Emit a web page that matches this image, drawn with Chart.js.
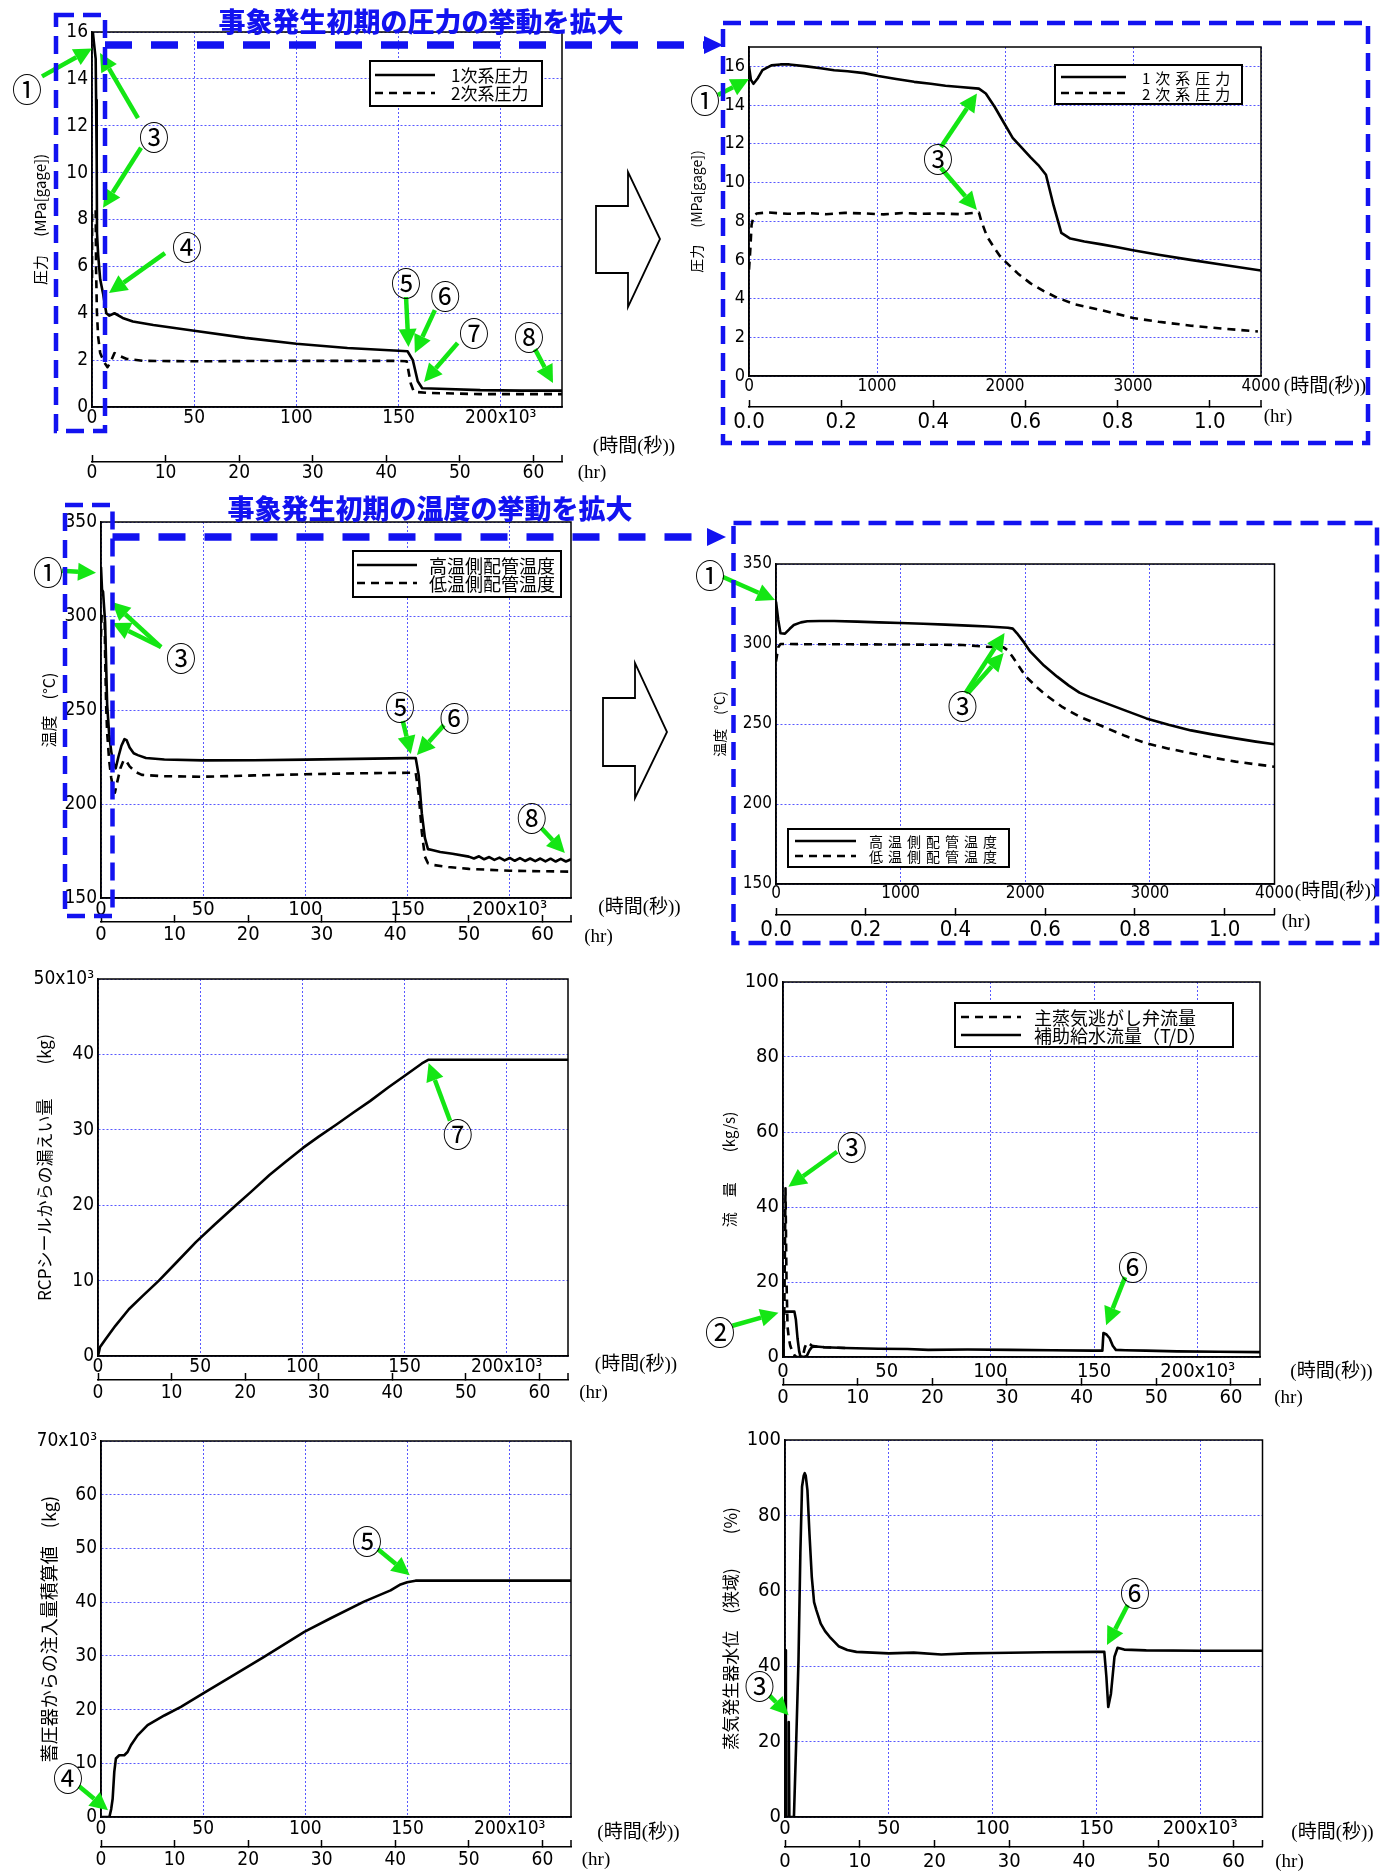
<!DOCTYPE html>
<html lang="ja">
<head>
<meta charset="utf-8">
<title>事象発生時のプラント挙動</title>
<script src="https://cdn.jsdelivr.net/npm/chart.js@4.4.1/dist/chart.umd.min.js"></script>
<style>
  html, body { margin: 0; padding: 0; background: #fff; }
  body { position: relative; width: 1389px; height: 1872px; overflow: hidden; }
  canvas { position: absolute; }
  #overlay { left: 0; top: 0; pointer-events: none; z-index: 10; }
</style>
</head>
<body>
<canvas id="overlay" width="1389" height="1872"></canvas>
<script>
// ---- values (time in seconds) ----

// pressure, whole run
var primPressTime = [0, 300, 1000, 1800, 2000, 2300, 2450, 3000, 4000, 5500, 7000, 8500, 11000, 15000, 20000, 30000, 50000, 75000, 100000, 125000, 150000, 154400, 157000, 159400, 161600, 170000, 190000, 210000, 230000];
var primPress = [16.0, 16.1, 15.5, 14.85, 13.1, 10.5, 7.4, 6.5, 5.45, 4.8, 4.0, 3.9, 4.0, 3.8, 3.65, 3.5, 3.25, 2.95, 2.7, 2.52, 2.4, 2.38, 2.0, 1.1, 0.8, 0.78, 0.72, 0.7, 0.7];
var secPressTime = [0, 50, 1800, 2000, 2400, 3000, 4000, 6000, 7600, 9000, 11000, 13000, 17000, 25000, 50000, 100000, 150000, 154000, 156000, 157500, 165000, 190000, 230000];
var secPress = [5.5, 8.3, 8.4, 5.9, 4.05, 3.0, 2.3, 1.9, 1.7, 1.9, 2.3, 2.2, 2.05, 1.97, 1.95, 1.97, 1.97, 1.95, 1.0, 0.65, 0.6, 0.55, 0.55];

// pressure, first 4000 s
var primPressEarlyTime = [0, 15, 35, 70, 105, 175, 245, 315, 450, 560, 665, 770, 900, 1010, 1150, 1290, 1420, 1535, 1650, 1796, 1850, 1920, 1990, 2060, 2130, 2200, 2260, 2320, 2380, 2440, 2510, 2620, 2755, 2880, 3000, 3200, 3450, 3700, 4000];
var primPressEarly = [16.0, 15.3, 15.1, 15.4, 15.8, 16.05, 16.1, 16.1, 16.0, 15.9, 15.8, 15.75, 15.65, 15.5, 15.35, 15.2, 15.1, 15.0, 14.93, 14.85, 14.6, 13.9, 13.1, 12.3, 11.8, 11.3, 10.9, 10.4, 8.8, 7.4, 7.1, 6.95, 6.8, 6.65, 6.5, 6.27, 6.0, 5.75, 5.45];
var secPressEarlyTime = [0, 10, 20, 30, 45, 60, 150, 300, 450, 600, 750, 900, 1050, 1200, 1350, 1500, 1650, 1796, 1815, 1860, 1918, 1960, 2005, 2100, 2197, 2300, 2406, 2550, 2755, 3000, 3200, 3453, 3700, 3976];
var secPressEarly = [5.5, 6.5, 7.8, 8.1, 8.3, 8.4, 8.45, 8.38, 8.42, 8.36, 8.43, 8.4, 8.35, 8.42, 8.38, 8.4, 8.36, 8.45, 8.0, 7.2, 6.6, 6.2, 5.9, 5.3, 4.8, 4.4, 4.05, 3.7, 3.4, 3.0, 2.8, 2.6, 2.45, 2.3];

// loop temperatures, whole run
var hotTempTime = [0, 500, 1000, 2000, 3000, 4000, 5000, 6000, 7200, 8500, 10000, 11500, 12500, 14000, 16000, 18000, 22000, 31000, 50000, 75000, 100000, 125000, 150000, 154000, 155500, 157000, 158500, 160000, 162000, 166000, 172000, 180000, 182500, 185000, 187500, 190000, 192500, 195000, 197500, 200000, 202500, 205000, 207500, 210000, 212500, 215000, 217500, 220000, 222500, 225000, 227500, 230000];
var hotTemp = [326, 314, 313, 297, 253, 237, 228, 222, 219, 225, 231, 234.5, 234, 230, 227, 226, 224.5, 223.7, 223.2, 223.3, 223.6, 224.0, 224.4, 224.5, 215, 195, 182, 176, 175.5, 174.5, 173.5, 172, 171, 172.2, 170.6, 171.8, 170.3, 171.5, 170.0, 171.3, 169.8, 171.2, 169.7, 171.0, 169.6, 171.0, 169.5, 170.9, 169.4, 170.8, 169.4, 170.6];
var coldTempTime = [0, 300, 1000, 1800, 2000, 2500, 3000, 4000, 5000, 6000, 6800, 8000, 9500, 11000, 12000, 14000, 17000, 20000, 30000, 50000, 75000, 100000, 125000, 150000, 154000, 155500, 157000, 158500, 160000, 163000, 170000, 180000, 200000, 230000];
var coldTemp = [289, 300, 299.6, 298, 280, 253, 238, 223, 214, 208, 206, 212, 219, 223, 223.5, 220, 217, 215.5, 214.8, 214.5, 215.2, 215.8, 216.3, 216.6, 216.6, 205, 185, 172, 168.5, 167.5, 166.5, 165.5, 164.5, 164];

// loop temperatures, first 4000 s
var hotTempEarlyTime = [0, 18, 36, 72, 110, 143, 200, 251, 350, 466, 650, 824, 1000, 1182, 1360, 1540, 1700, 1862, 1900, 1934, 1990, 2041, 2150, 2256, 2350, 2435, 2520, 2614, 2800, 2972, 3150, 3330, 3500, 3688, 3850, 4000];
var hotTempEarly = [326.5, 315, 306.7, 306.5, 309.5, 311.9, 313.5, 314.2, 314.4, 314.4, 314, 313.5, 313.1, 312.7, 312.1, 311.5, 310.9, 310.2, 309.6, 306.7, 301, 295.2, 286.5, 279.6, 274, 269.6, 266.8, 264, 258.5, 253.5, 249.5, 246, 243.5, 241, 239, 237.3];
var coldTempEarlyTime = [0, 10, 18, 36, 100, 300, 600, 900, 1200, 1500, 1683, 1826, 1860, 1898, 1950, 2005, 2100, 2184, 2300, 2435, 2614, 2800, 2972, 3150, 3330, 3500, 3688, 3850, 4000];
var coldTempEarly = [289, 294, 298, 300, 300, 299.8, 299.8, 299.7, 299.6, 299.4, 298.3, 297.9, 296, 292, 286, 279.6, 272.5, 267, 260.5, 254.6, 248.75, 242.6, 237.9, 234.6, 231.7, 229, 226.5, 224.8, 223.3];

// RCP seal leakage (kg)
var sealLeakTime = [0, 1000, 3600, 8500, 15100, 22000, 29800, 38000, 47900, 57000, 67500, 75000, 83900, 92000, 100300, 108000, 116700, 125000, 133100, 142000, 150800, 158500, 161800, 180000, 200000, 230000];
var sealLeak = [0, 1200, 2200, 4000, 6200, 8000, 10000, 12300, 15100, 17400, 20000, 21800, 24000, 25800, 27600, 29100, 30700, 32300, 33800, 35600, 37300, 38800, 39300, 39300, 39300, 39300];

// aux feedwater and relief valve flow (kg/s)
var afwTime = [0, 300, 600, 5500, 6200, 7000, 7800, 8400, 10000, 11500, 12800, 14000, 16000, 20000, 30000, 46000, 60000, 70000, 89000, 110000, 130000, 149500, 154000, 154500, 156000, 157500, 159000, 160500, 165000, 175000, 190000, 210000, 230000];
var afwFlow = [0, 11.8, 12.1, 12.1, 10, 5, 1.5, 0.2, 0, 0.3, 1.8, 2.7, 2.8, 2.6, 2.4, 2.2, 2.15, 1.9, 2.0, 1.9, 1.8, 1.7, 1.7, 6.4, 6.0, 5.0, 3.0, 1.9, 1.8, 1.7, 1.5, 1.4, 1.3];
var msrvTime = [0, 600, 1200, 1700, 2200, 2800, 3500, 4500, 5500, 6500, 9500, 10500, 11500, 12500, 14000, 16000, 20000, 30000];
var msrvFlow = [0, 10, 45, 20, 8, 5, 3, 1.5, 0.5, 0, 0, 2.5, 3.8, 3.6, 3.0, 2.8, 2.6, 2.4];

// accumulator injection, integrated (kg)
var accumTime = [0, 4100, 5000, 5700, 6500, 7300, 8900, 11400, 13000, 14700, 17900, 22800, 31000, 39100, 50000, 63500, 79800, 99700, 112400, 128700, 141700, 146600, 149800, 153900, 190000, 230000];
var accumMass = [0, 0, 1500, 3400, 8400, 10900, 11500, 11500, 12100, 13400, 15200, 17100, 18900, 20500, 23000, 26100, 29800, 34500, 37000, 40100, 42200, 43300, 43700, 44000, 44000, 44000];

// SG narrow range level (%)
var sgLevelTime = [0, 430, 1100, 1500, 1700, 1900, 2100, 2400, 4300, 5400, 6500, 7400, 8200, 9000, 9500, 10000, 10800, 11800, 12900, 14000, 15100, 17200, 19300, 21500, 25800, 30000, 34400, 50000, 62000, 75300, 88000, 100000, 125000, 150000, 153800, 154800, 155700, 157000, 158700, 160200, 163400, 174000, 200000, 230000];
var sgLevel = [44.2, 0, 0, 0, 25.2, 25.2, 0, 0, 0, 20, 41.6, 70, 87.6, 90.5, 91.2, 90.5, 86.7, 75, 63.7, 57, 54.9, 51.3, 49.3, 47.8, 45.3, 44.3, 43.8, 43.4, 43.6, 43.1, 43.4, 43.5, 43.7, 43.8, 43.8, 37.2, 29.2, 32.7, 42.5, 44.9, 44.4, 44.2, 44.1, 44.1];

// tick labels
var secTickLabels = ['0', '50', '100', '150', '200x10³'];
var secTickLabelsEarly = ['0', '1000', '2000', '3000', '4000'];
var hrTickLabels = ['0', '10', '20', '30', '40', '50', '60'];
var hrTickLabelsEarly = ['0.0', '0.2', '0.4', '0.6', '0.8', '1.0'];
var pressTickLabels = ['0', '2', '4', '6', '8', '10', '12', '14', '16'];
var tempTickLabels = ['150', '200', '250', '300', '350'];
var leakTickLabels = ['0', '10', '20', '30', '40', '50x10³'];
var flowTickLabels = ['0', '20', '40', '60', '80', '100'];
var accumTickLabels = ['0', '10', '20', '30', '40', '50', '60', '70x10³'];
var levelTickLabels = ['0', '20', '40', '60', '80', '100'];

// ---- styling ----
var GRID = 'rgba(70,70,255,0.9)';
var GREEN = '#14e614';
var BLUE = '#1212f0';
var TICK = 7;
var NUM = "'Liberation Sans Narrow', 'DejaVu Sans Condensed', 'Liberation Sans', sans-serif";
var JP = "'Noto Sans CJK JP', 'Noto Sans', sans-serif";
var UNIT = "'Liberation Serif', 'Noto Sans CJK JP', serif";

function pts(t, v) {
  return t.map(function (x, i) { return {x: x, y: v[i]}; });
}

function series(label, t, v, dashed) {
  return {
    label: label, data: pts(t, v),
    borderColor: '#000', borderWidth: 2.6, borderDash: dashed ? [8, 6] : [],
    borderJoinStyle: 'round', pointRadius: 0, fill: false, tension: 0
  };
}

// ticks at start + i*step, one per label
function fixTicks(labels, start, step) {
  return function (s) {
    s.ticks = labels.map(function (l, i) { return {value: start + i * step}; });
  };
}

function arrow(ctx, x0, y0, x1, y1) {
  var ang = Math.atan2(y1 - y0, x1 - x0), hl = 18, hw = 9;
  var bx = x1 - hl * Math.cos(ang), by = y1 - hl * Math.sin(ang);
  ctx.strokeStyle = GREEN; ctx.fillStyle = GREEN; ctx.lineWidth = 4.5;
  ctx.beginPath(); ctx.moveTo(x0, y0); ctx.lineTo(bx, by); ctx.stroke();
  ctx.beginPath();
  ctx.moveTo(x1, y1);
  ctx.lineTo(bx + hw * Math.sin(ang), by - hw * Math.cos(ang));
  ctx.lineTo(bx - hw * Math.sin(ang), by + hw * Math.cos(ang));
  ctx.closePath(); ctx.fill();
}

function decor(p) {
  return {
    id: 'decor',
    afterDraw: function (chart) {
      var ctx = chart.ctx, a = chart.chartArea;
      var xs = chart.scales.x, ys = chart.scales.y, hs = chart.scales.x2;
      var ox = p.box[0], oy = p.box[1];
      ctx.save();
      ctx.setLineDash([]);
      ctx.strokeStyle = '#000';
      ctx.lineWidth = 1.5;
      ctx.strokeRect(a.left, a.top, a.right - a.left, a.bottom - a.top);
      // closing tick on the hour axis
      ctx.beginPath(); ctx.moveTo(hs.right, hs.top); ctx.lineTo(hs.right, hs.top - TICK); ctx.stroke();

      if (p.legend) {
        var lg = p.legend;
        var bx = lg.box[0] - ox, by = lg.box[1] - oy;
        ctx.fillStyle = '#fff';
        ctx.fillRect(bx, by, lg.box[2], lg.box[3]);
        ctx.strokeStyle = '#000'; ctx.lineWidth = 2;
        ctx.strokeRect(bx, by, lg.box[2], lg.box[3]);
        lg.order.forEach(function (di, k) {
          var ds = chart.data.datasets[di], yy = lg.rows[k] - oy;
          ctx.setLineDash(ds.borderDash);
          ctx.lineWidth = ds.borderWidth;
          ctx.beginPath(); ctx.moveTo(lg.line[0] - ox, yy); ctx.lineTo(lg.line[1] - ox, yy); ctx.stroke();
          ctx.setLineDash([]);
          ctx.fillStyle = '#000';
          ctx.font = lg.size + 'px ' + JP;
          ctx.letterSpacing = lg.spacing + 'px';
          ctx.textAlign = 'left'; ctx.textBaseline = 'middle';
          ctx.fillText(ds.label, lg.textX - ox, yy + 1);
          ctx.letterSpacing = '0px';
        });
      }

      ctx.fillStyle = '#000';
      ctx.font = '19px ' + UNIT;
      ctx.textAlign = 'center'; ctx.textBaseline = 'middle';
      ctx.fillText('(時間(秒))', a.right + p.units.sec[0], a.bottom + p.units.sec[1]);
      ctx.fillText('(hr)', a.right + p.units.hr[0], a.bottom + p.units.hr[1]);

      p.notes.forEach(function (n) {
        var tx = xs.getPixelForValue(n.at[0]), ty = ys.getPixelForValue(n.at[1]);
        arrow(ctx, tx + n.tail[0], ty + n.tail[1], tx, ty);
      });
      p.notes.forEach(function (n) {
        if (!n.label) return;
        var tx = xs.getPixelForValue(n.at[0]), ty = ys.getPixelForValue(n.at[1]);
        ctx.save();
        ctx.translate(tx + n.label[0], ty + n.label[1]);
        ctx.scale(1, 1.08);
        ctx.fillStyle = '#000';
        ctx.font = '30px ' + JP;
        ctx.textAlign = 'center'; ctx.textBaseline = 'middle';
        ctx.fillText(n.n, 0, 1);
        ctx.restore();
      });
      ctx.restore();
    }
  };
}

function buildPanel(p) {
  var cx = p.box[0], cy = p.box[1], cw = p.box[2], ch = p.box[3];
  var L = p.area[0], T = p.area[1], R = p.area[2], B = p.area[3];
  var cv = document.createElement('canvas');
  cv.width = cw; cv.height = ch;
  cv.style.left = cx + 'px'; cv.style.top = cy + 'px';
  cv.style.width = cw + 'px'; cv.style.height = ch + 'px';
  document.body.insertBefore(cv, document.getElementById('overlay'));

  var padLeft = p.yTitle.x - cx - p.yTitle.size * 0.6;
  var yWidth = L - cx - padLeft;
  var h1 = p.hrLine - B;
  var h2 = cy + ch - p.hrLine;
  var xPad = p.xCenter - B - p.xFont * 0.6;
  var hrPad = p.hrCenter - p.hrLine + TICK - p.hrFont * 0.6;

  return new Chart(cv, {
    type: 'line',
    data: {datasets: p.datasets},
    options: {
      responsive: false, animation: false, devicePixelRatio: 1,
      layout: {padding: {left: padLeft, top: T - cy, right: cx + cw - R, bottom: 0}},
      plugins: {legend: {display: false}, tooltip: {enabled: false}},
      scales: {
        x: {
          type: 'linear', position: 'bottom', weight: 0, min: 0, max: p.xMax,
          afterBuildTicks: fixTicks(p.xLabels, 0, p.xStep),
          afterFit: function (s) { s.height = h1; },
          grid: {color: GRID, lineWidth: 1, drawTicks: false},
          border: {color: '#000', width: 1.5, dash: [2, 2]},
          ticks: {autoSkip: false, maxRotation: 0, minRotation: 0,
            padding: xPad, color: '#000', font: {family: NUM, size: p.xFont},
            callback: function (v, i) { return p.xLabels[i]; }}
        },
        x2: {
          type: 'linear', position: 'bottom', weight: 1, min: 0, max: p.xMax / 3600,
          afterBuildTicks: fixTicks(p.hrLabels, 0, p.hrStep),
          afterFit: function (s) { s.height = h2; },
          grid: {drawOnChartArea: false, drawTicks: true, tickLength: -TICK, tickColor: '#000', tickWidth: 1.5},
          border: {color: '#000', width: 1.5},
          ticks: {autoSkip: false, maxRotation: 0, minRotation: 0,
            padding: hrPad, color: '#000', font: {family: NUM, size: p.hrFont},
            callback: function (v, i) { return p.hrLabels[i]; }}
        },
        y: {
          type: 'linear', position: 'left', min: p.yMin, max: p.yMax,
          afterBuildTicks: fixTicks(p.yLabels, p.yMin, p.yStep),
          afterFit: function (s) { s.width = yWidth; },
          grid: {color: GRID, lineWidth: 1, drawTicks: false},
          border: {color: '#000', width: 1.5, dash: [2, 2]},
          ticks: {autoSkip: false, padding: 4,
            color: '#000', font: {family: NUM, size: p.yFont},
            callback: function (v, i) { return p.yLabels[i]; }},
          title: {display: true, text: p.yTitle.text, color: '#000', padding: 0,
            font: {family: JP, size: p.yTitle.size}}
        }
      }
    },
    plugins: [decor(p)]
  });
}

var panels = [
  { // pressure, whole run
    box: [0, 0, 686, 490], area: [92, 32, 562, 407],
    xMax: 230000, xStep: 50000, xLabels: secTickLabels, xFont: 19, xCenter: 418,
    hrLine: 462, hrCenter: 473, hrStep: 10, hrLabels: hrTickLabels, hrFont: 19,
    yMin: 0, yMax: 16, yStep: 2, yLabels: pressTickLabels, yFont: 19,
    yTitle: {text: '圧力　 (MPa[gage])', x: 40, size: 15},
    datasets: [series('1次系圧力', primPressTime, primPress), series('2次系圧力', secPressTime, secPress, true)],
    legend: {box: [370, 61, 172, 45], rows: [75, 93], line: [375, 435], textX: 451, size: 17, spacing: 0, order: [0, 1]},
    units: {sec: [72, 40], hr: [30, 66]},
    notes: [
      {n: '①', at: [0, 15.3], tail: [-50, 28], label: [-65, 40]},
      {n: '③', at: [3900, 15.1], tail: [38, 65], label: [54, 84]},
      {n: '③', at: [5400, 8.5], tail: [38, -60]},
      {n: '④', at: [8300, 4.86], tail: [56, -40], label: [78, -46]},
      {n: '⑤', at: [154900, 2.56], tail: [-2.5, -50], label: [-2.5, -64]},
      {n: '⑥', at: [158000, 2.3], tail: [20, -43], label: [30.5, -57]},
      {n: '⑦', at: [162500, 1.07], tail: [33.6, -39], label: [50, -49]},
      {n: '⑧', at: [225600, 1.02], tail: [-18, -34], label: [-24, -46]}
    ]
  },
  { // pressure, first 4000 s
    box: [686, 0, 703, 490], area: [749, 47, 1261, 376],
    xMax: 4000, xStep: 1000, xLabels: secTickLabelsEarly, xFont: 17, xCenter: 387,
    hrLine: 407, hrCenter: 422, hrStep: 0.2, hrLabels: hrTickLabelsEarly, hrFont: 22,
    yMin: 0, yMax: 17, yStep: 2, yLabels: pressTickLabels, yFont: 18,
    yTitle: {text: '圧力　 (MPa[gage])', x: 697, size: 14},
    datasets: [series('1次系圧力', primPressEarlyTime, primPressEarly), series('2次系圧力', secPressEarlyTime, secPressEarly, true)],
    legend: {box: [1055, 65, 187, 39], rows: [77, 93], line: [1061, 1126], textX: 1142, size: 15, spacing: 5, order: [0, 1]},
    units: {sec: [64, 11], hr: [17, 41]},
    notes: [
      {n: '①', at: [0, 15.35], tail: [-31, 16], label: [-44, 21]},
      {n: '③', at: [1781, 14.6], tail: [-36, 53.5], label: [-39, 65.5]},
      {n: '③', at: [1781, 8.58], tail: [-36, -42]}
    ]
  },
  { // temperature, whole run
    box: [0, 490, 686, 460], area: [101, 522, 571, 898],
    xMax: 230000, xStep: 50000, xLabels: secTickLabels, xFont: 20, xCenter: 910,
    hrLine: 922, hrCenter: 935, hrStep: 10, hrLabels: hrTickLabels, hrFont: 20,
    yMin: 150, yMax: 350, yStep: 50, yLabels: tempTickLabels, yFont: 19,
    yTitle: {text: '温度　(°C)', x: 49, size: 16},
    datasets: [series('高温側配管温度', hotTempTime, hotTemp), series('低温側配管温度', coldTempTime, coldTemp, true)],
    legend: {box: [353, 551, 208, 46], rows: [565, 583], line: [357, 417], textX: 429, size: 18, spacing: 0, order: [0, 1]},
    units: {sec: [68.5, 10], hr: [27.5, 39]},
    notes: [
      {n: '①', at: [-2450, 323], tail: [-34, -2], label: [-48, -1]},
      {n: '③', at: [5400, 307.4], tail: [49, 45], label: [69, 56]},
      {n: '③', at: [5600, 296.3], tail: [48.6, 24]},
      {n: '⑤', at: [151600, 226.6], tail: [-8, -33], label: [-10.8, -47]},
      {n: '⑥', at: [154600, 226], tail: [27, -30], label: [37.5, -38]},
      {n: '⑧', at: [227000, 173.9], tail: [-23, -24.5], label: [-33, -35]}
    ]
  },
  { // temperature, first 4000 s
    box: [686, 490, 703, 460], area: [776, 564, 1274.5, 884],
    xMax: 4000, xStep: 1000, xLabels: secTickLabelsEarly, xFont: 17, xCenter: 894,
    hrLine: 915, hrCenter: 930, hrStep: 0.2, hrLabels: hrTickLabelsEarly, hrFont: 22,
    yMin: 150, yMax: 350, yStep: 50, yLabels: tempTickLabels, yFont: 17,
    yTitle: {text: '温度　(°C)', x: 720, size: 14},
    datasets: [series('高温側配管温度', hotTempEarlyTime, hotTempEarly), series('低温側配管温度', coldTempEarlyTime, coldTempEarly, true)],
    legend: {box: [788, 829, 221, 38], rows: [841, 856], line: [795, 856], textX: 869, size: 14, spacing: 5, order: [0, 1]},
    units: {sec: [61.5, 8], hr: [21.5, 38]},
    notes: [
      {n: '①', at: [-8, 327.5], tail: [-52, -23], label: [-65, -25]},
      {n: '③', at: [1834, 306.9], tail: [-39, 60], label: [-42, 73]},
      {n: '③', at: [1827, 294.4], tail: [-35.6, 40]}
    ]
  },
  { // RCP seal leakage
    box: [0, 950, 686, 460], area: [98, 979, 568, 1356],
    xMax: 230000, xStep: 50000, xLabels: secTickLabels, xFont: 19, xCenter: 1367,
    hrLine: 1380, hrCenter: 1393, hrStep: 10, hrLabels: hrTickLabels, hrFont: 19,
    yMin: 0, yMax: 50000, yStep: 10000, yLabels: leakTickLabels, yFont: 19,
    yTitle: {text: 'RCPシールからの漏えい量　　(kg)', x: 45, size: 17},
    datasets: [series('RCPシールからの漏えい量', sealLeakTime, sealLeak)],
    legend: null,
    units: {sec: [68, 9], hr: [25.5, 37]},
    notes: [
      {n: '⑦', at: [161800, 38850], tail: [21.4, 57.7], label: [29, 71]}
    ]
  },
  { // flow rates
    box: [686, 950, 703, 460], area: [783, 982, 1260, 1357],
    xMax: 230000, xStep: 50000, xLabels: secTickLabels, xFont: 20, xCenter: 1372,
    hrLine: 1385, hrCenter: 1398, hrStep: 10, hrLabels: hrTickLabels, hrFont: 20,
    yMin: 0, yMax: 100, yStep: 20, yLabels: flowTickLabels, yFont: 20,
    yTitle: {text: '流　量　　(kg/s)', x: 729, size: 15},
    datasets: [series('補助給水流量（T/D）', afwTime, afwFlow), series('主蒸気逃がし弁流量', msrvTime, msrvFlow, true)],
    legend: {box: [955, 1003, 278, 44], rows: [1017, 1035], line: [961, 1021], textX: 1034, size: 18, spacing: 0, order: [1, 0]},
    units: {sec: [71.5, 15], hr: [28.5, 41]},
    notes: [
      {n: '③', at: [2600, 45.4], tail: [48.7, -35], label: [63.3, -40]},
      {n: '②', at: [-2200, 11.8], tail: [-46, 13], label: [-58.4, 19]},
      {n: '⑥', at: [155800, 8.5], tail: [19, -48], label: [27, -59]}
    ]
  },
  { // accumulator injection
    box: [0, 1410, 686, 462], area: [101, 1441, 571, 1817],
    xMax: 230000, xStep: 50000, xLabels: secTickLabels, xFont: 19, xCenter: 1829,
    hrLine: 1847, hrCenter: 1860, hrStep: 10, hrLabels: hrTickLabels, hrFont: 19,
    yMin: 0, yMax: 70000, yStep: 10000, yLabels: accumTickLabels, yFont: 19,
    yTitle: {text: '蓄圧器からの注入量積算値　(kg)', x: 49, size: 18},
    datasets: [series('蓄圧器からの注入量積算値', accumTime, accumMass)],
    legend: null,
    units: {sec: [67.5, 16], hr: [25, 43]},
    notes: [
      {n: '④', at: [3430, 1250], tail: [-29, -24], label: [-40, -33]},
      {n: '⑤', at: [151100, 45000], tail: [-31.8, -26], label: [-42.8, -35]}
    ]
  },
  { // SG level
    box: [686, 1410, 703, 462], area: [785, 1440, 1262.5, 1817],
    xMax: 230000, xStep: 50000, xLabels: secTickLabels, xFont: 20, xCenter: 1829,
    hrLine: 1847, hrCenter: 1862, hrStep: 10, hrLabels: hrTickLabels, hrFont: 20,
    yMin: 0, yMax: 100, yStep: 20, yLabels: levelTickLabels, yFont: 20,
    yTitle: {text: '蒸気発生器水位　(狭域)　　(%)', x: 731, size: 17},
    datasets: [series('蒸気発生器水位', sgLevelTime, sgLevel)],
    legend: null,
    units: {sec: [70, 16], hr: [27, 45]},
    notes: [
      {n: '③', at: [1730, 27], tail: [-19, -19.6], label: [-29, -30]},
      {n: '⑥', at: [155100, 45.6], tail: [20.7, -40], label: [28, -52]}
    ]
  }
];

panels.forEach(buildPanel);

// ---- zoom call-outs drawn over the charts ----
var ov = document.getElementById('overlay').getContext('2d');
ov.strokeStyle = BLUE;
ov.fillStyle = BLUE;
ov.lineWidth = 4.5;
ov.setLineDash([18, 9]);
[[56, 15, 49, 416], [723, 23, 645, 420], [65, 505, 47.5, 411], [733.5, 523, 643.5, 420]].forEach(function (r) {
  ov.strokeRect(r[0], r[1], r[2], r[3]);
});
ov.lineWidth = 7.5;
ov.setLineDash([27, 19]);
[[105, 45, 704], [112.5, 537, 707]].forEach(function (l) {
  ov.beginPath(); ov.moveTo(l[0], l[1]); ov.lineTo(l[2], l[1]); ov.stroke();
});
ov.setLineDash([]);
[[704, 45], [707, 537]].forEach(function (t) {
  ov.beginPath(); ov.moveTo(t[0], t[1] - 9); ov.lineTo(t[0] + 19, t[1]); ov.lineTo(t[0], t[1] + 9); ov.closePath(); ov.fill();
});

ov.font = '900 27px ' + JP;
ov.textAlign = 'center';
ov.textBaseline = 'middle';
ov.fillText('事象発生初期の圧力の挙動を拡大', 421, 22);
ov.fillText('事象発生初期の温度の挙動を拡大', 430, 509);

// hollow block arrows between the panels
ov.strokeStyle = '#000';
ov.fillStyle = '#fff';
ov.lineWidth = 1.8;
[[596, 628, 660, 206, 273, 172, 307, 239], [603, 635, 667, 698, 766, 663, 798, 732]].forEach(function (b) {
  ov.beginPath();
  ov.moveTo(b[0], b[3]); ov.lineTo(b[1], b[3]); ov.lineTo(b[1], b[5]);
  ov.lineTo(b[2], b[7]); ov.lineTo(b[1], b[6]); ov.lineTo(b[1], b[4]);
  ov.lineTo(b[0], b[4]); ov.closePath();
  ov.fill(); ov.stroke();
});
</script>
</body>
</html>
